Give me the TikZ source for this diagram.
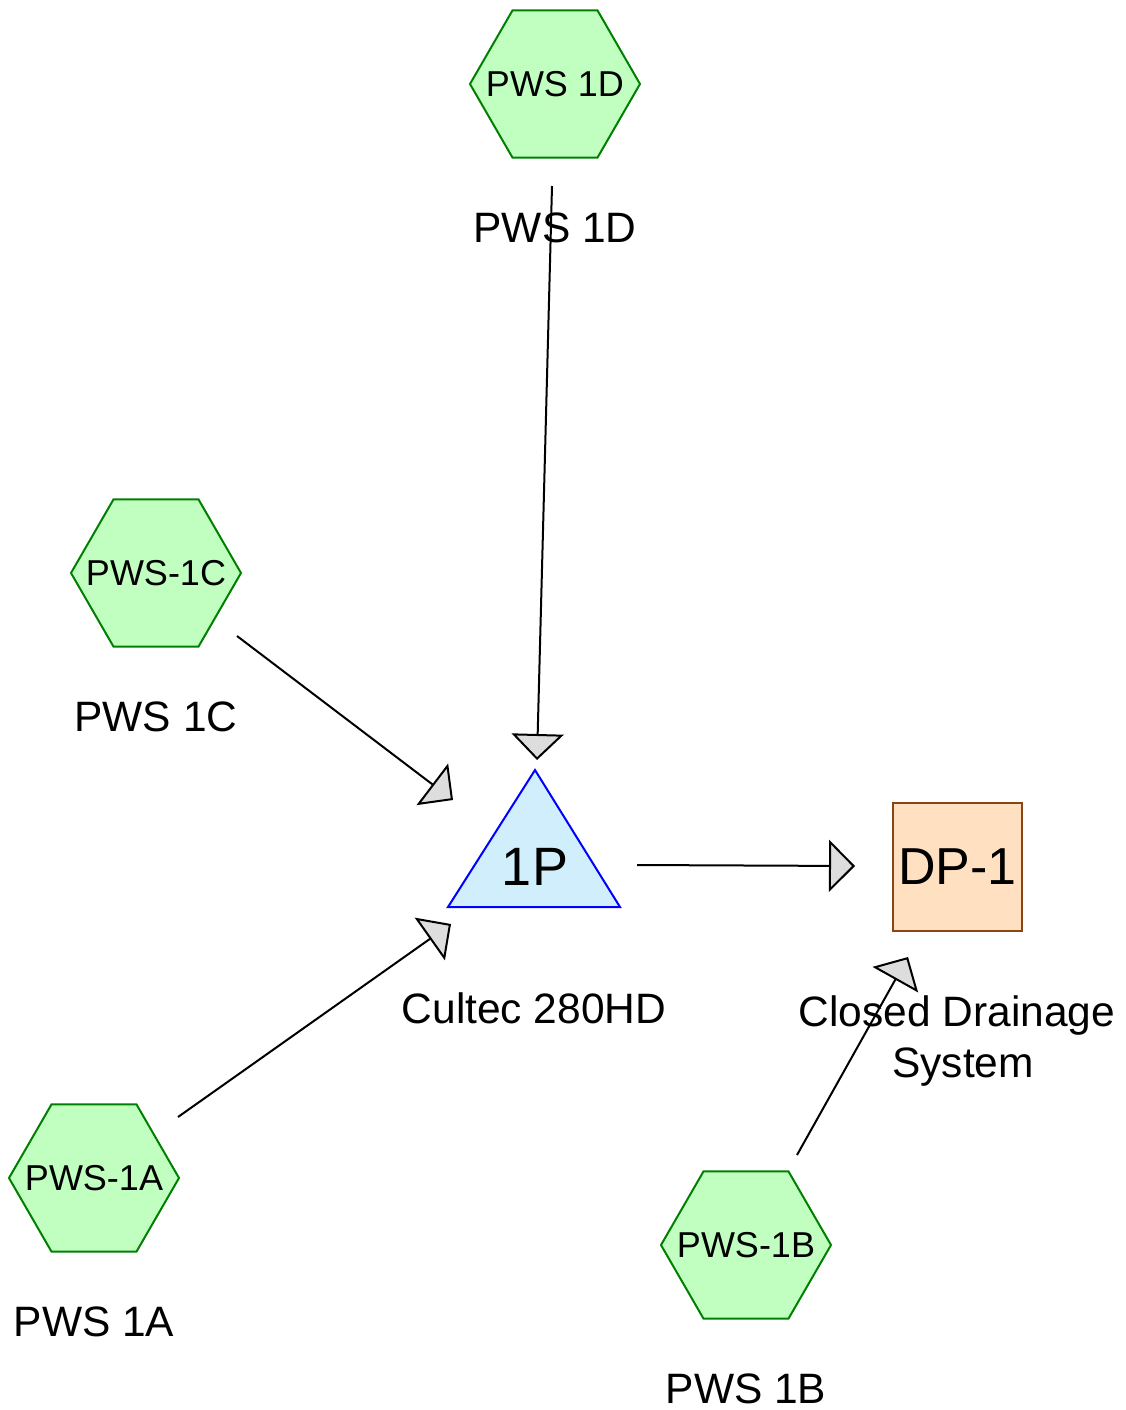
\documentclass[tikz,border=0pt]{standalone}
\usepackage{fontspec}
\setmainfont{Liberation Sans}
\usetikzlibrary{shapes.geometric,arrows.meta}
\definecolor{hexfill}{HTML}{C0FFC0}
\definecolor{hexdraw}{HTML}{008000}
\definecolor{trifill}{HTML}{D0EEFC}
\definecolor{tridraw}{HTML}{0000FF}
\definecolor{dpfill}{HTML}{FFE0C0}
\definecolor{dpdraw}{HTML}{8B4513}
\definecolor{tipfill}{HTML}{DDDDDD}
\begin{document}
\begin{tikzpicture}[x=1pt,y=-1pt,
  hexnode/.style={regular polygon, regular polygon sides=6, minimum size=170pt, inner sep=0pt,
    fill=hexfill, draw=hexdraw, line width=2pt, font=\fontsize{36}{43}\selectfont},
  lbl/.style={anchor=base, inner sep=0pt, font=\fontsize{42.5}{50}\selectfont},
  bigtext/.style={inner sep=0pt, font=\fontsize{54}{60}\selectfont},
  flow/.style={line width=2pt, -{Triangle[length=26pt,width=52pt,fill=tipfill]}},
]
\useasboundingbox (0,0) rectangle (1126,1410);

% sources
\node[hexnode] (h1D) at (555,84) {\makebox[0pt]{PWS 1D}};
\node[lbl] (l1D) at (555,242) {PWS 1D};
\node[hexnode] (h1C) at (156,573) {\makebox[0pt]{PWS-1C}};
\node[lbl] (l1C) at (156,731) {PWS 1C};
\node[hexnode] (h1A) at (94,1178) {\makebox[0pt]{PWS-1A}};
\node[lbl] (l1A) at (94,1336) {PWS 1A};
\node[hexnode] (h1B) at (746,1245) {\makebox[0pt]{PWS-1B}};
\node[lbl] (l1B) at (746,1403) {PWS 1B};

% pond
\draw[fill=trifill, draw=tridraw, line width=2pt] (535,770) -- (620,907) -- (448,907) -- cycle;
\node[bigtext] (p1P) at (535,867) {1P};
\node[lbl] (l1P) at (534,1023) {Cultec 280HD};

% design point
\node[draw=dpdraw, fill=dpfill, line width=2pt, minimum width=129pt, minimum height=128pt,
  inner sep=0pt, font=\fontsize{52}{60}\selectfont] (dp) at (957.5,867) {\raisebox{-2pt}{DP-1}};
\node[lbl] (ldpa) at (957,1026) {Closed Drainage};
\node[lbl] (ldpb) at (963,1077) {System};

% connector ends
\coordinate (s1D) at (552,186); \coordinate (t1D) at (537,760);
\coordinate (s1C) at (237,636); \coordinate (t1C) at (453,800);
\coordinate (s1A) at (178,1117); \coordinate (t1A) at (451,924);
\coordinate (s1P) at (637,865); \coordinate (t1P) at (855,866);
\coordinate (s1B) at (797,1155); \coordinate (t1B) at (908,957);

\draw[flow] (s1D) -- (t1D);
\draw[flow] (s1C) -- (t1C);
\draw[flow] (s1A) -- (t1A);
\draw[flow] (s1P) -- (t1P);
\draw[flow] (s1B) -- (t1B);
\end{tikzpicture}
\end{document}
